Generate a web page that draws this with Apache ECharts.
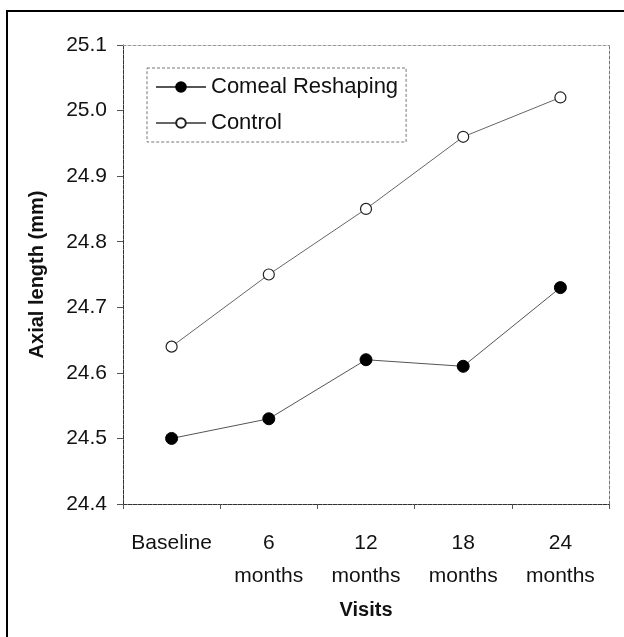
<!DOCTYPE html>
<html>
<head>
<meta charset="utf-8">
<script src="https://cdn.jsdelivr.net/npm/echarts@6/dist/echarts.min.js"></script>
<style>
  html, body { margin: 0; padding: 0; background: #fff; }
  #main { width: 624px; height: 637px; }
</style>
</head>
<body>
<div id="main"></div>
<script>
var visits = ['Baseline', '6\nmonths', '12\nmonths', '18\nmonths', '24\nmonths'];
var reshaping = [24.50, 24.53, 24.62, 24.61, 24.73];
var control = [24.64, 24.75, 24.85, 24.96, 25.02];
var yTicks = [24.4, 24.5, 24.6, 24.7, 24.8, 24.9, 25.0, 25.1];

var font = 'Arial, "Liberation Sans", sans-serif';
var chart = echarts.init(document.getElementById('main'));

var option = {
  backgroundColor: '#fff',
  animation: false,
  textStyle: { fontFamily: font },
  grid: { left: 123, top: 45, width: 486, height: 459 },
  legend: {
    orient: 'vertical',
    left: 147,
    top: 68,
    padding: [8, 8, 8, 8],
    itemWidth: 50,
    itemHeight: 12,
    itemGap: 14,
    borderColor: '#777',
    borderWidth: 1,
    borderType: [3, 2],
    textStyle: { fontSize: 22, color: '#111', fontFamily: font },
    data: ['Comeal Reshaping', 'Control']
  },
  xAxis: [
    {
      type: 'category',
      data: visits,
      name: 'Visits',
      nameLocation: 'middle',
      nameGap: 96,
      nameTextStyle: { fontSize: 20, fontWeight: 'bold', color: '#111', fontFamily: font },
      axisLine: { lineStyle: { color: '#333', width: 1, type: [4, 1] } },
      axisTick: { show: true, length: 5, lineStyle: { color: '#555' } },
      axisLabel: {
        interval: 0,
        fontSize: 21, color: '#111', lineHeight: 33, margin: 23,
        verticalAlign: 'top', fontFamily: font
      }
    },
    {
      type: 'category',
      position: 'top',
      data: visits,
      axisLine: { lineStyle: { color: '#999', width: 1, type: [3, 2] } },
      axisTick: { show: false },
      axisLabel: { show: false }
    }
  ],
  yAxis: [
    {
      type: 'value',
      min: yTicks[0],
      max: yTicks[yTicks.length - 1],
      interval: 0.1,
      name: 'Axial length (mm)',
      nameLocation: 'middle',
      nameRotate: 90,
      nameGap: 76,
      nameTextStyle: { fontSize: 20, fontWeight: 'bold', color: '#111', fontFamily: font },
      axisLine: { show: true, lineStyle: { color: '#333', width: 1, type: [4, 1] } },
      axisTick: { show: true, length: 6, lineStyle: { color: '#555' } },
      splitLine: { show: false },
      axisLabel: {
        fontSize: 21, color: '#111', margin: 16, fontFamily: font,
        formatter: function (v) { return v.toFixed(1); }
      }
    },
    {
      type: 'value',
      position: 'right',
      min: yTicks[0],
      max: yTicks[yTicks.length - 1],
      interval: 0.1,
      axisLine: { show: true, lineStyle: { color: '#777', width: 1, type: [3, 2] } },
      axisTick: { show: false },
      axisLabel: { show: false },
      splitLine: { show: false }
    }
  ],
  series: [
    {
      name: 'Comeal Reshaping',
      type: 'line',
      data: reshaping,
      symbol: 'circle',
      symbolSize: 12,
      itemStyle: { color: '#000', borderColor: '#000', borderWidth: 1 },
      lineStyle: { color: '#555', width: 1 }
    },
    {
      name: 'Control',
      type: 'line',
      data: control,
      symbol: 'circle',
      symbolSize: 11,
      itemStyle: { color: '#fff', borderColor: '#222', borderWidth: 1.2 },
      lineStyle: { color: '#666', width: 1 }
    }
  ],
  graphic: [
    {
      type: 'rect',
      shape: { x: 7, y: 11, width: 700, height: 700 },
      style: { fill: 'none', stroke: '#000', lineWidth: 2 },
      silent: true
    }
  ]
};

chart.setOption(option);
</script>
</body>
</html>
